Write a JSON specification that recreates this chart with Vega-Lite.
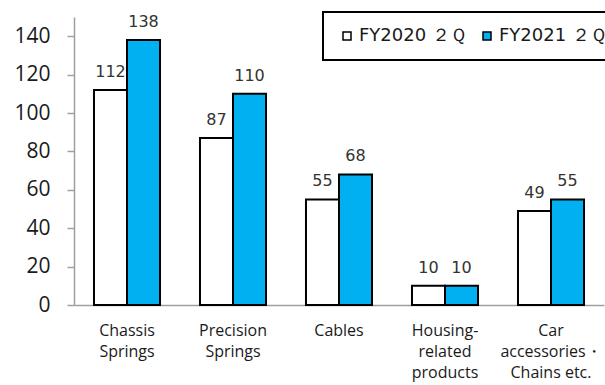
{
  "$schema": "https://vega.github.io/schema/vega-lite/v6.json",
  "width": 530,
  "height": 288,
  "autosize": {"type": "none"},
  "padding": {"left": 74, "top": 17, "right": 1, "bottom": 80},
  "background": "white",
  "config": {
    "view": {"stroke": null},
    "axis": {"domainColor": "#A0A0A0", "domainWidth": 1.5, "tickColor": "#A0A0A0", "tickWidth": 1.5, "grid": false}
  },
  "data": {
    "values": [
      {"category": "Chassis\nSprings", "year": "FY2020 ２Ｑ", "value": 112},
      {"category": "Chassis\nSprings", "year": "FY2021 ２Ｑ", "value": 138},
      {"category": "Precision\nSprings", "year": "FY2020 ２Ｑ", "value": 87},
      {"category": "Precision\nSprings", "year": "FY2021 ２Ｑ", "value": 110},
      {"category": "Cables", "year": "FY2020 ２Ｑ", "value": 55},
      {"category": "Cables", "year": "FY2021 ２Ｑ", "value": 68},
      {"category": "Housing-\nrelated\nproducts", "year": "FY2020 ２Ｑ", "value": 10},
      {"category": "Housing-\nrelated\nproducts", "year": "FY2021 ２Ｑ", "value": 10},
      {"category": "Car\naccessories・\nChains etc.", "year": "FY2020 ２Ｑ", "value": 49},
      {"category": "Car\naccessories・\nChains etc.", "year": "FY2021 ２Ｑ", "value": 55}
    ]
  },
  "encoding": {
    "x": {
      "field": "category",
      "type": "nominal",
      "sort": null,
      "scale": {"paddingInner": 0.377, "paddingOuter": 0.1885},
      "axis": {
        "title": null,
        "labelAngle": 0,
        "ticks": false,
        "tickSize": 0,
        "labelPadding": 17,
        "labelBaseline": "top",
        "labelFont": "Open Sans",
        "labelFontSize": 16,
        "labelLineHeight": 21,
        "labelColor": "#1a1a1a",
        "labelLimit": 0,
        "labelExpr": "split(datum.label, '\\n')"
      }
    },
    "xOffset": {
      "field": "year",
      "type": "nominal",
      "scale": {"paddingInner": 0, "paddingOuter": 0}
    },
    "y": {
      "field": "value",
      "type": "quantitative",
      "scale": {"domain": [0, 150], "nice": false},
      "axis": {
        "title": null,
        "values": [0, 20, 40, 60, 80, 100, 120, 140],
        "tickSize": 7,
        "labelPadding": 17,
        "labelFont": "Open Sans",
        "labelFontSize": 21,
        "labelColor": "#1a1a1a"
      }
    }
  },
  "layer": [
    {
      "mark": {"type": "bar", "stroke": "black", "strokeWidth": 2},
      "encoding": {
        "color": {
          "field": "year",
          "type": "nominal",
          "scale": {"domain": ["FY2020 ２Ｑ", "FY2021 ２Ｑ"], "range": ["#FFFFFF", "#00B0F0"]},
          "legend": {
            "title": null,
            "orient": "none",
            "legendX": 249,
            "legendY": -5,
            "direction": "horizontal",
            "padding": 15,
            "strokeColor": "black",
            "symbolType": "square",
            "symbolSize": 64,
            "symbolStrokeColor": "black",
            "symbolStrokeWidth": 1.5,
            "symbolOpacity": 1,
            "labelFont": "DejaVu Sans",
            "labelFontSize": 18,
            "labelColor": "#1a1a1a",
            "labelOffset": 3,
            "columnPadding": 12,
            "labelLimit": 0,
            "encode": {"legend": {"update": {"strokeWidth": {"value": 2}}}}
          }
        }
      }
    },
    {
      "mark": {"type": "text", "baseline": "bottom", "dy": -10, "font": "DejaVu Sans", "fontSize": 16, "color": "#333333"},
      "encoding": {"text": {"field": "value", "type": "quantitative"}}
    }
  ]
}
